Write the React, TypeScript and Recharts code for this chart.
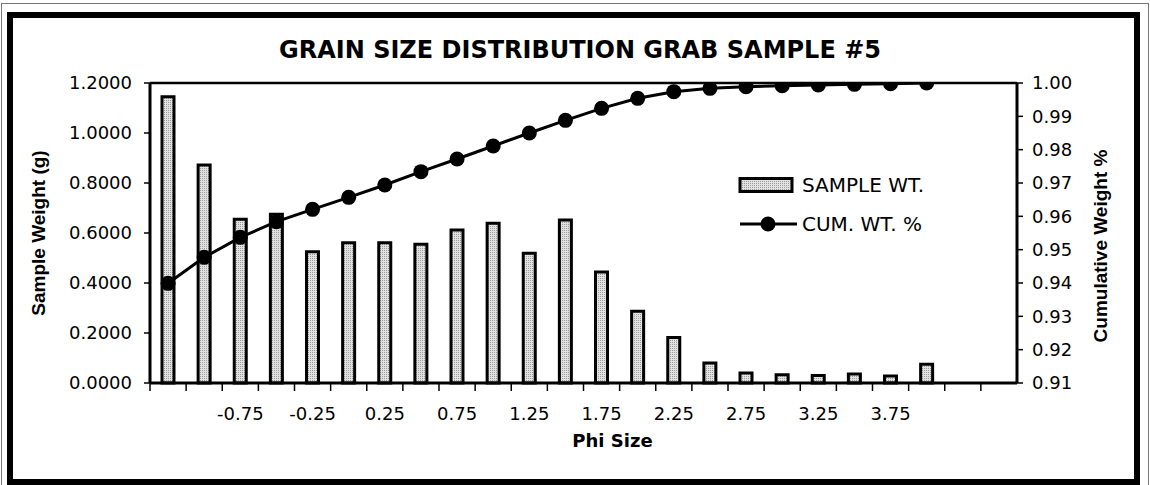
import React from 'react';
import { ComposedChart, Bar, Line, XAxis, YAxis, Legend, ReferenceLine } from 'recharts';

// phi size classes (last two categories are empty on the sheet)
const phiSizes = [
  '-1.25', '-1.00', '-0.75', '-0.50', '-0.25', '0.00', '0.25', '0.50', '0.75', '1.00', '1.25', '1.50',
  '1.75', '2.00', '2.25', '2.50', '2.75', '3.00', '3.25', '3.50', '3.75', '4.00', '4.25', '4.50',
];
const sampleWeight = [
  1.145, 0.872, 0.655, 0.675, 0.525, 0.561, 0.561, 0.555, 0.612, 0.639, 0.519, 0.652,
  0.444, 0.287, 0.182, 0.08, 0.04, 0.033, 0.03, 0.036, 0.028, 0.075, null, null,
];
const cumulativeWeight = [
  0.9399, 0.9477, 0.9537, 0.9584, 0.9621, 0.9657, 0.9694, 0.9734, 0.9772, 0.9811, 0.985, 0.9888,
  0.9924, 0.9954, 0.9974, 0.9984, 0.9989, 0.9992, 0.9994, 0.9996, 0.9998, 1.0, null, null,
];
const phiLabels = ['-0.75', '-0.25', '0.25', '0.75', '1.25', '1.75', '2.25', '2.75', '3.25', '3.75'];
const weightTicks = [0, 0.2, 0.4, 0.6, 0.8, 1.0, 1.2];
const cumTicks = [0.91, 0.92, 0.93, 0.94, 0.95, 0.96, 0.97, 0.98, 0.99, 1.0];

const barName = 'SAMPLE WT.';
const lineName = 'CUM. WT. %';

const data = phiSizes.map((phi, i) => ({ phi, wt: sampleWeight[i], cum: cumulativeWeight[i] }));

const FONT = '"DejaVu Sans", sans-serif';
const ARIAL = '"Liberation Sans", Arial, sans-serif';
const X_TICK_SIZE = 8;
const X_TICK_MARGIN = 16;

// Excel style: tick marks sit between categories, labels on every other one
function PhiTick(props: any) {
  const { x, y, payload, width, visibleTicksCount } = props;
  const band = width && visibleTicksCount ? width / visibleTicksCount : 36.1;
  const axisY = y - X_TICK_SIZE - X_TICK_MARGIN;
  const edge = x - band / 2;
  const show = phiLabels.includes(payload.value);
  return (
    <g>
      <line x1={edge} x2={edge} y1={axisY} y2={axisY + X_TICK_SIZE} stroke="#000" strokeWidth={1.5} />
      {show && (
        <text x={x} y={y} dy="0.71em" textAnchor="middle" fontFamily={FONT} fontSize={18} fill="#000">
          {payload.value}
        </text>
      )}
    </g>
  );
}

function ChartLegend() {
  return (
    <div style={{ fontFamily: FONT, fontSize: 20, color: '#000', lineHeight: '24px' }}>
      <div style={{ display: 'flex', alignItems: 'center', height: 24 }}>
        <svg width={62} height={24}>
          <rect x={2} y={5.5} width={52} height={13} fill="url(#stipple)" stroke="#000" strokeWidth={3} />
        </svg>
        <span style={{ marginLeft: 2 }}>{barName}</span>
      </div>
      <div style={{ display: 'flex', alignItems: 'center', height: 24, marginTop: 15 }}>
        <svg width={62} height={24}>
          <line x1={2} x2={59} y1={12} y2={12} stroke="#000" strokeWidth={3} />
          <circle cx={30} cy={12} r={7.5} fill="#000" />
        </svg>
        <span style={{ marginLeft: 2 }}>{lineName}</span>
      </div>
    </div>
  );
}

export default function App() {
  return (
    <div style={{ position: 'absolute', left: 0, top: 0, width: 1150, height: 485, background: '#fff', overflow: 'hidden' }}>
      <div style={{ position: 'absolute', left: 1, top: 3, width: 1146, height: 490, border: '1px solid #777' }} />
      <div
        style={{
          position: 'absolute', left: 7, top: 12, width: 1133, height: 473,
          border: '6px solid #000', boxSizing: 'border-box',
        }}
      />
      <svg width={1150} height={485} style={{ position: 'absolute', left: 0, top: 0 }}>
        <text x={580} y={58} textAnchor="middle" fontFamily={FONT} fontWeight="bold" fontSize={24} fill="#000">
          GRAIN SIZE DISTRIBUTION GRAB SAMPLE #5
        </text>
      </svg>
      <div style={{ position: 'absolute', left: 0, top: 0 }}>
        <ComposedChart width={1150} height={485} data={data} margin={{ top: 83, right: 33, left: 0, bottom: 32 }}>
          <defs>
            <pattern id="stipple" width={2} height={2} patternUnits="userSpaceOnUse">
              <rect width={2} height={2} fill="#e2e2e2" />
              <rect width={1} height={1} fill="#9c9c9c" />
            </pattern>
          </defs>
          <XAxis
            dataKey="phi"
            interval={0}
            height={70}
            tickSize={X_TICK_SIZE}
            tickMargin={X_TICK_MARGIN}
            tickLine={false}
            axisLine={{ stroke: '#000', strokeWidth: 3 }}
            tick={<PhiTick />}
            label={{
              value: 'Phi Size', position: 'insideBottom', offset: 6, dx: 29,
              fontFamily: FONT, fontWeight: 'bold', fontSize: 18, fill: '#000',
            }}
          />
          <YAxis
            yAxisId="wt"
            width={150}
            domain={[0, 1.2]}
            ticks={weightTicks}
            interval={0}
            tickFormatter={(v: number) => v.toFixed(4)}
            tickSize={6}
            tickMargin={12}
            tick={{ fontFamily: FONT, fontSize: 18, fill: '#000' }}
            tickLine={{ stroke: '#000', strokeWidth: 1.5 }}
            axisLine={{ stroke: '#000', strokeWidth: 3 }}
            label={{
              content: ({ viewBox }: any) => (
                <text
                  transform={`translate(${viewBox.x + 38},${viewBox.y + viewBox.height / 2}) rotate(-90)`}
                  textAnchor="middle" dominantBaseline="central"
                  fontFamily={ARIAL} fontWeight="bold" fontSize={19} fill="#000"
                >
                  Sample Weight (g)
                </text>
              ),
            }}
          />
          <YAxis
            yAxisId="cum"
            orientation="right"
            width={100}
            domain={[0.91, 1.0]}
            ticks={cumTicks}
            interval={0}
            allowDataOverflow
            tickFormatter={(v: number) => v.toFixed(2)}
            tickSize={6}
            tickMargin={9}
            tick={{ fontFamily: FONT, fontSize: 18, fill: '#000' }}
            tickLine={{ stroke: '#000', strokeWidth: 1.5 }}
            axisLine={{ stroke: '#000', strokeWidth: 3 }}
            label={{
              content: ({ viewBox }: any) => (
                <text
                  transform={`translate(${viewBox.x + 83},${viewBox.y + viewBox.height / 2 + 13}) rotate(-90)`}
                  textAnchor="middle" dominantBaseline="central"
                  fontFamily={ARIAL} fontWeight="bold" fontSize={19} fill="#000"
                >
                  Cumulative Weight %
                </text>
              ),
            }}
          />
          <ReferenceLine yAxisId="wt" y={1.2} stroke="#000" strokeWidth={2.5} />
          <Legend
            layout="horizontal"
            verticalAlign="middle"
            align="center"
            content={<ChartLegend />}
            wrapperStyle={{ left: 738, top: 173, width: 'auto', height: 'auto' }}
          />
          <Bar
            yAxisId="wt"
            dataKey="wt"
            name={barName}
            barSize={12}
            fill="url(#stipple)"
            stroke="#000"
            strokeWidth={3}
            isAnimationActive={false}
          />
          <Line
            yAxisId="cum"
            dataKey="cum"
            name={lineName}
            type="linear"
            stroke="#000"
            strokeWidth={3}
            dot={{ r: 7.5, fill: '#000', stroke: '#000', strokeWidth: 0 }}
            activeDot={false}
            isAnimationActive={false}
          />
        </ComposedChart>
      </div>
    </div>
  );
}
